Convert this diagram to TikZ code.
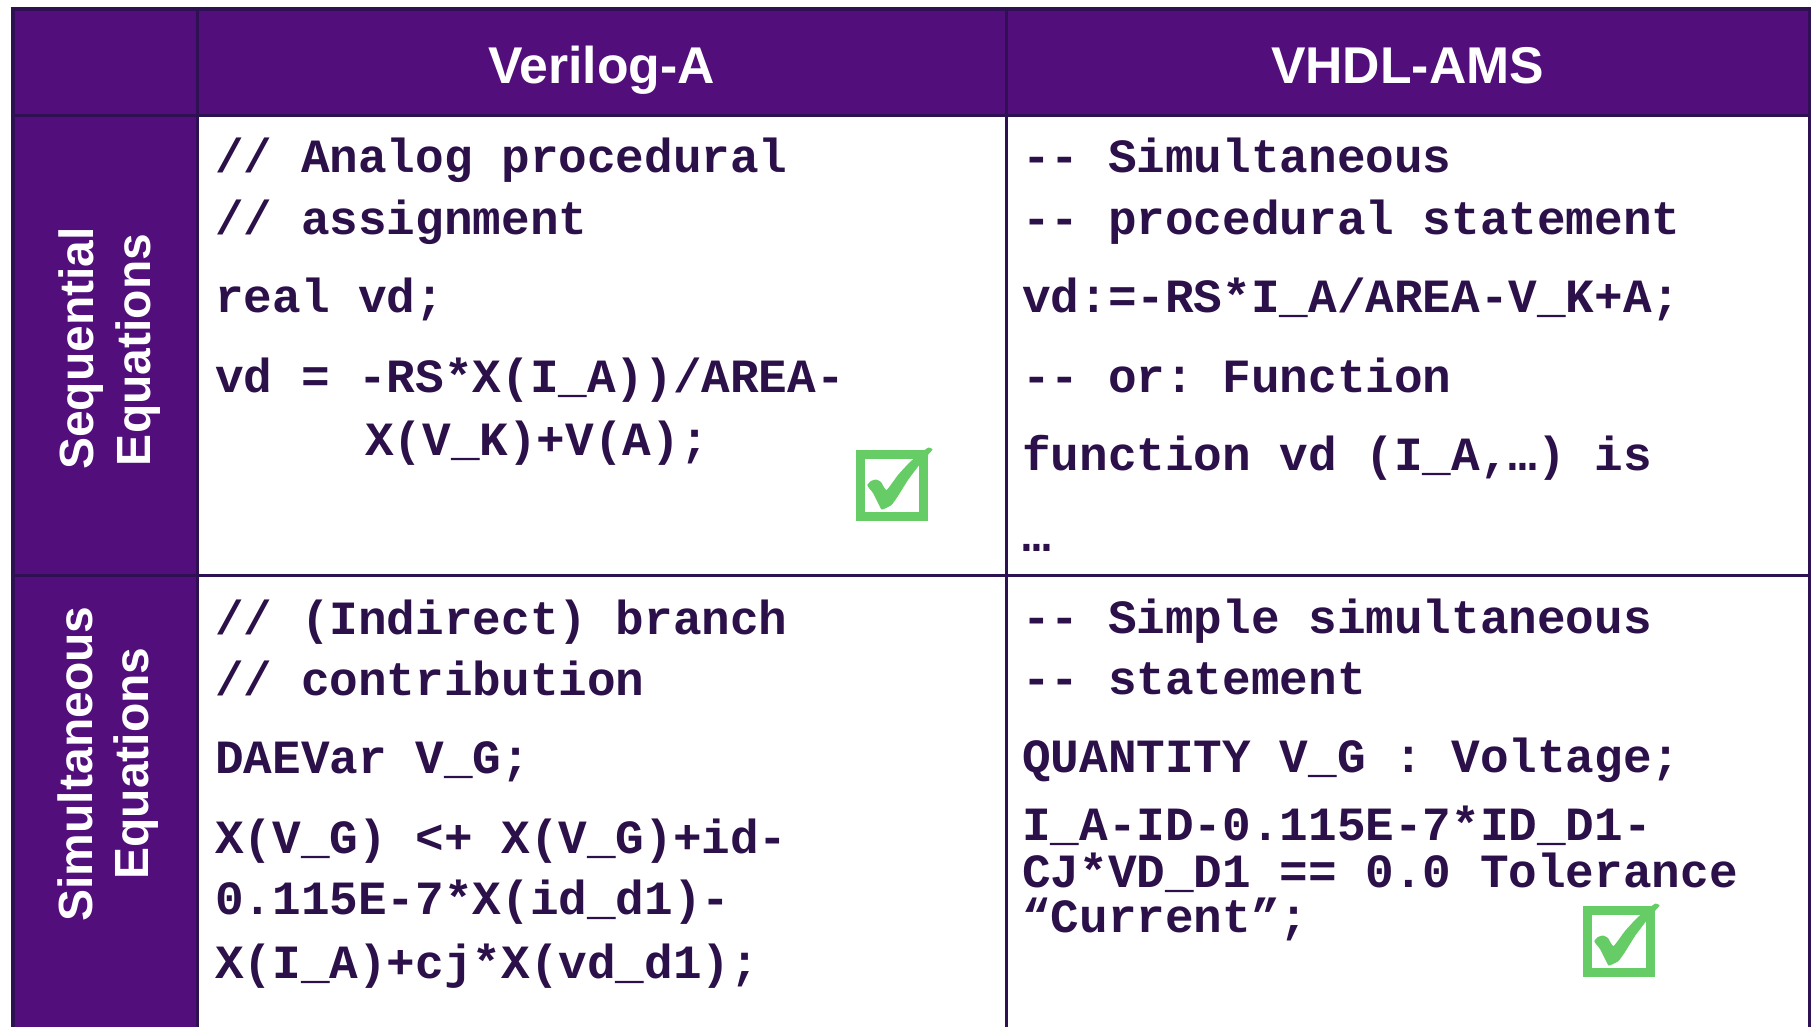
\documentclass[tikz,border=0pt]{standalone}
\usepackage{fontspec}
\setmainfont{Liberation Sans}
\setsansfont{Liberation Sans}
\setmonofont{Liberation Mono}
\definecolor{cellpurple}{HTML}{520E7A}
\definecolor{linec}{HTML}{2D1152}
\definecolor{codec}{HTML}{2B1049}
\definecolor{tickgreen}{HTML}{66CC66}
\newcommand\codefnt{\ttfamily\bfseries\fontsize{47.7}{50}\selectfont}
\newcommand\headfnt{\sffamily\bfseries\fontsize{51.7}{60}\selectfont}
\newcommand\sidefnt{\sffamily\bfseries\fontsize{48}{56}\selectfont}
\begin{document}
\begin{tikzpicture}[x=1pt,y=-1pt,
  gridline/.style={draw=linec, line width=3pt},
  outerline/.style={draw=linec, line width=4pt},
  code/.style={anchor=base west, inner sep=0pt, text=codec, font=\codefnt},
  head/.style={anchor=base, inner sep=0pt, text=white, font=\headfnt},
  side/.style={anchor=base, inner sep=0pt, text=white, font=\sidefnt, rotate=90},
  pics/tickbox/.style={code={
    \draw[tickgreen, line width=9pt] (4.5,4.5) rectangle (67.5,66.5);
    \fill[tickgreen] plot[smooth cycle, tension=0.3] coordinates {
      (11.3,35) (15,31) (20,29.5) (25,32) (30.5,40) (42,25) (54,12)
      (66,2) (72.5,-2.5) (76.5,-0.5) (70,7) (64,14) (52,30) (42,46)
      (35.5,55) (29,58.5) (25.5,59.5) (22,53) (17,43) (13,38)};
  }}]
\useasboundingbox (0,0) rectangle (1812,1027);
\fill[white] (0,0) rectangle (1812,1027);

% purple header band and row-label column
\fill[cellpurple] (12.5,9.5) rectangle (1809.5,115.5);
\fill[cellpurple] (12.5,115.5) rectangle (197.5,1027);

% table rules
\draw[outerline] (10.5,9.5) -- (1811,9.5);
\draw[outerline] (12.5,9.5) -- (12.5,1027);
\draw[gridline] (1809.5,9.5) -- (1809.5,1027);
\draw[gridline] (12.5,115.5) -- (1809.5,115.5);
\draw[gridline] (12.5,575.5) -- (1809.5,575.5);
\draw[gridline] (197.5,9.5) -- (197.5,1027);
\draw[gridline] (1006,9.5) -- (1006,1027);

% column headers
\node[head] (hva) at (601.5,84) {Verilog-A};
\node[head] (hvh) at (1407.5,84) {VHDL-AMS};

% row headers
\node[side] (seq1) at (93,348.5) {Sequential};
\node[side] (seq2) at (150,350) {Equations};
\node[side] (sim1) at (92,764) {Simultaneous};
\node[side] (sim2) at (148,763.5) {Equations};

% Verilog-A, sequential
\node[code] (a1) at (215,173) {// Analog procedural};
\node[code] (a2) at (215,234) {// assignment};
\node[code] (a3) at (215,312) {real vd;};
\node[code] (a4) at (215,392) {vd = -RS*X(I\_A))/AREA-};
\node[code] (a5) at (365,455) {X(V\_K)+V(A);};

% VHDL-AMS, sequential
\node[code] (b1) at (1022,173) {-{}- Simultaneous};
\node[code] (b2) at (1022,234) {-{}- procedural statement};
\node[code] (b3) at (1022,312) {vd:=-RS*I\_A/AREA-V\_K+A;};
\node[code] (b4) at (1022,392) {-{}- or: Function};
\node[code] (b5) at (1022,470) {function vd (I\_A,…) is};
\node[code] (b6) at (1022,551) {…};

% Verilog-A, simultaneous
\node[code] (c1) at (215,634) {// (Indirect) branch};
\node[code] (c2) at (215,695) {// contribution};
\node[code] (c3) at (215,773) {DAEVar V\_G;};
\node[code] (c4) at (215,853) {X(V\_G) <+ X(V\_G)+id-};
\node[code] (c5) at (215,914) {0.115E-7*X(id\_d1)-};
\node[code] (c6) at (215,978) {X(I\_A)+cj*X(vd\_d1);};

% VHDL-AMS, simultaneous
\node[code] (d1) at (1022,633) {-{}- Simple simultaneous};
\node[code] (d2) at (1022,694) {-{}- statement};
\node[code] (d3) at (1022,772) {QUANTITY V\_G : Voltage;};
\node[code] (d4) at (1022,840) {I\_A-ID-0.115E-7*ID\_D1-};
\node[code] (d5) at (1022,887) {CJ*VD\_D1 == 0.0 Tolerance};
\node[code] (d6) at (1022,932) {“Current”;};

% check marks
\pic at (856,450) {tickbox};
\pic at (1583,906) {tickbox};
\end{tikzpicture}
\end{document}
